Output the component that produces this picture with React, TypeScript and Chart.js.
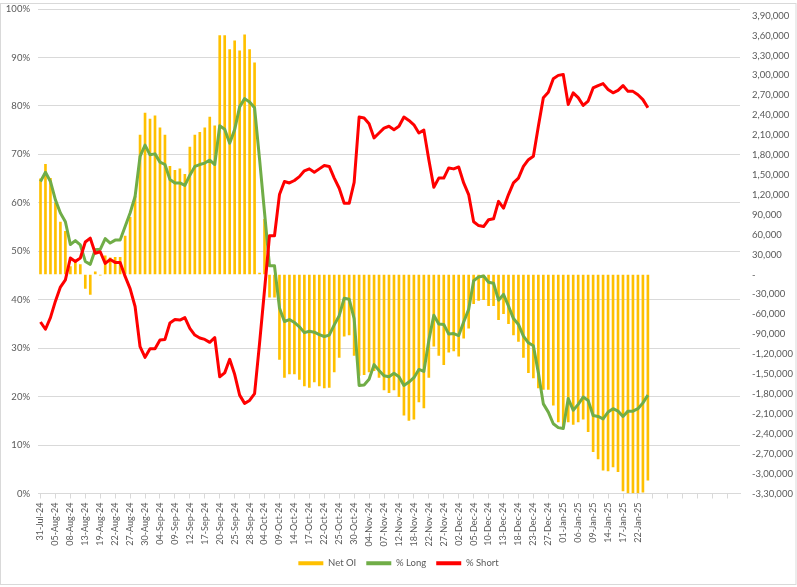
import React, { useEffect, useRef } from 'react';
import { Chart, registerables } from 'chart.js';

Chart.register(...registerables);

const dates: string[] = [
  '31-Jul-24', '01-Aug-24', '02-Aug-24', '05-Aug-24', '06-Aug-24', '07-Aug-24', '08-Aug-24', '09-Aug-24', '12-Aug-24', '13-Aug-24',
  '14-Aug-24', '16-Aug-24', '19-Aug-24', '20-Aug-24', '21-Aug-24', '22-Aug-24', '23-Aug-24', '26-Aug-24', '27-Aug-24', '28-Aug-24',
  '29-Aug-24', '30-Aug-24', '02-Sep-24', '03-Sep-24', '04-Sep-24', '05-Sep-24', '06-Sep-24', '09-Sep-24', '10-Sep-24', '11-Sep-24',
  '12-Sep-24', '13-Sep-24', '16-Sep-24', '17-Sep-24', '18-Sep-24', '19-Sep-24', '20-Sep-24', '23-Sep-24', '24-Sep-24', '25-Sep-24',
  '26-Sep-24', '27-Sep-24', '28-Sep-24', '01-Oct-24', '03-Oct-24', '04-Oct-24', '07-Oct-24', '08-Oct-24', '09-Oct-24', '10-Oct-24',
  '11-Oct-24', '14-Oct-24', '15-Oct-24', '16-Oct-24', '17-Oct-24', '18-Oct-24', '21-Oct-24', '22-Oct-24', '23-Oct-24', '24-Oct-24',
  '25-Oct-24', '28-Oct-24', '29-Oct-24', '30-Oct-24', '31-Oct-24', '01-Nov-24', '04-Nov-24', '05-Nov-24', '06-Nov-24', '07-Nov-24',
  '08-Nov-24', '11-Nov-24', '12-Nov-24', '13-Nov-24', '14-Nov-24', '18-Nov-24', '19-Nov-24', '21-Nov-24', '22-Nov-24', '25-Nov-24',
  '26-Nov-24', '27-Nov-24', '28-Nov-24', '29-Nov-24', '02-Dec-24', '03-Dec-24', '04-Dec-24', '05-Dec-24', '06-Dec-24', '09-Dec-24',
  '10-Dec-24', '11-Dec-24', '12-Dec-24', '13-Dec-24', '16-Dec-24', '17-Dec-24', '18-Dec-24', '19-Dec-24', '20-Dec-24', '23-Dec-24',
  '24-Dec-24', '26-Dec-24', '27-Dec-24', '30-Dec-24', '31-Dec-24', '01-Jan-25', '02-Jan-25', '03-Jan-25', '06-Jan-25', '07-Jan-25',
  '08-Jan-25', '09-Jan-25', '10-Jan-25', '13-Jan-25', '14-Jan-25', '15-Jan-25', '16-Jan-25', '17-Jan-25', '20-Jan-25', '21-Jan-25',
  '22-Jan-25', '23-Jan-25', '24-Jan-25',
];

// empty category rows that follow the data in the source range
const EMPTY_CATEGORIES = 18;

const netOI: number[] = [
  144000, 166000, 145000, 108000, 79000, 65000, 12000, 20000, 15000, -21000,
  -30000, 4000, -1000, 28000, 25000, 26000, 26000, 58000, 86000, 118000,
  210000, 243000, 234000, 239000, 221000, 210000, 163000, 157000, 159000, 151000,
  192000, 210000, 214000, 221000, 237000, 224000, 360000, 360000, 339000, 352000,
  337000, 361000, 339000, 319000, 2000, 83000, -34000, -34000, -128000, -155000,
  -150000, -150000, -158000, -168000, -170000, -162000, -168000, -171000, -170000, -147000,
  -125000, -93000, -91000, -122000, -152000, -151000, -147000, -145000, -155000, -174000,
  -178000, -174000, -184000, -212000, -220000, -218000, -192000, -201000, -155000, -108000,
  -122000, -136000, -117000, -115000, -123000, -96000, -81000, -44000, -39000, -38000,
  -47000, -47000, -68000, -59000, -74000, -91000, -101000, -125000, -148000, -156000,
  -171000, -173000, -173000, -197000, -222000, -230000, -222000, -226000, -222000, -218000,
  -237000, -267000, -278000, -295000, -296000, -290000, -297000, -326000, -329000, -329000,
  -329000, -328000, -310000,
];

const pctLong: number[] = [
  64.4, 66.3, 64.4, 60.6, 57.9, 56.1, 51.4, 52.2, 51.3, 47.9,
  47.3, 50.3, 50.4, 52.6, 51.7, 52.3, 52.3, 55.1, 57.9, 61.3,
  69.6, 71.9, 69.9, 70.1, 68.4, 67.9, 64.8, 64.1, 64.1, 63.6,
  65.7, 67.5, 67.9, 68.2, 68.8, 67.9, 75.9, 75.2, 72.3, 75.1,
  79.8, 81.5, 80.8, 79.6, 69.0, 58.0, 47.0, 47.0, 38.3, 35.5,
  35.9, 35.3, 34.4, 33.2, 33.5, 33.3, 32.8, 32.4, 32.7, 34.8,
  36.7, 40.3, 40.1, 36.1, 22.3, 22.4, 23.6, 26.6, 25.4, 24.3,
  24.1, 24.8, 24.1, 22.3, 23.0, 23.9, 25.6, 25.2, 31.6, 36.8,
  35.0, 34.9, 32.9, 33.0, 32.6, 35.4, 38.0, 43.9, 44.7, 44.9,
  43.6, 43.4, 39.9, 41.1, 38.7, 36.1, 34.9, 32.5, 31.1, 30.5,
  24.9, 18.5, 16.8, 14.4, 13.6, 13.4, 19.6, 17.2, 18.4, 19.9,
  19.2, 16.1, 15.9, 15.4, 16.8, 17.5, 17.0, 15.9, 17.0, 17.0,
  17.5, 18.7, 20.3,
];

const pctShort: number[] = [
  35.4, 33.9, 36.3, 39.7, 42.6, 44.1, 48.6, 47.9, 48.6, 51.9,
  52.7, 49.6, 49.9, 47.5, 48.3, 47.7, 47.7, 44.8, 42.3, 38.6,
  30.3, 28.1, 29.9, 29.9, 31.7, 31.8, 35.2, 35.9, 35.8, 36.3,
  34.1, 32.7, 32.1, 31.8, 31.2, 32.2, 24.1, 24.9, 27.7, 24.6,
  20.3, 18.6, 19.2, 20.6, 31.0, 42.0, 53.2, 53.2, 61.7, 64.4,
  64.1, 64.6, 65.4, 66.6, 67.0, 66.3, 67.0, 67.7, 67.5, 65.1,
  63.0, 59.9, 59.9, 64.2, 77.7, 77.5, 76.3, 73.4, 74.4, 75.4,
  75.8, 75.1, 75.8, 77.7, 77.0, 76.1, 74.4, 75.0, 68.9, 63.2,
  65.1, 65.1, 67.2, 67.0, 67.4, 64.1, 61.7, 56.1, 55.3, 55.1,
  56.5, 56.7, 60.3, 58.9, 61.7, 64.1, 65.1, 67.5, 68.9, 69.6,
  75.8, 81.7, 82.8, 85.6, 86.3, 86.5, 80.3, 82.7, 81.7, 80.1,
  81.0, 83.7, 84.2, 84.6, 83.4, 82.7, 83.2, 84.2, 83.0, 83.0,
  82.3, 81.3, 79.6,
];

const LEFT_MIN = 0;
const LEFT_MAX = 100;
const LEFT_STEP = 10;
const RIGHT_MIN = -330000;
const RIGHT_MAX = 400000;
const RIGHT_STEP = 30000;
const RIGHT_LAST_TICK = 390000;
const LABEL_EVERY = 3;

const FONT = 'Lato, "Noto Sans", sans-serif';
const TEXT = '#595959';
const GRID = '#d9d9d9';
const CLEAR = 'rgba(0,0,0,0)';

function fmtIndian(v: number): string {
  if (Math.abs(v) < 0.5) return '-';
  const neg = v < 0;
  const s = Math.abs(Math.round(v)).toString();
  let last3 = s.slice(-3);
  let rest = s.slice(0, -3);
  if (rest) last3 = ',' + last3;
  rest = rest.replace(/\B(?=(\d{2})+(?!\d))/g, ',');
  return (neg ? '-' : '') + rest + last3;
}

export default function App() {
  const ref = useRef<HTMLCanvasElement | null>(null);

  useEffect(() => {
    document.body.style.margin = '0';
    const canvas = ref.current;
    if (!canvas) return;
    const labels = [...dates, ...Array(EMPTY_CATEGORIES).fill('')];

    const bgPlugin = {
      id: 'bg',
      beforeDraw(chart: any) {
        const { ctx, width, height } = chart;
        ctx.save();
        ctx.fillStyle = '#ffffff';
        ctx.fillRect(0, 0, width, height);
        ctx.strokeStyle = GRID;
        ctx.lineWidth = 1;
        ctx.strokeRect(0.5, 3.5, width - 1.5, height - 6);
        ctx.restore();
      },
    };

    const chart = new Chart(canvas, {
      type: 'bar',
      data: {
        labels,
        datasets: [
          {
            type: 'bar',
            label: 'Net OI',
            data: netOI,
            backgroundColor: '#FFC000',
            borderWidth: 0,
            barThickness: 2,
            yAxisID: 'y1',
            order: 3,
          } as any,
          {
            type: 'line',
            label: '% Long',
            data: pctLong,
            borderColor: '#70AD47',
            backgroundColor: '#70AD47',
            borderWidth: 3,
            pointRadius: 0,
            tension: 0,
            borderJoinStyle: 'round',
            yAxisID: 'y',
            order: 2,
          } as any,
          {
            type: 'line',
            label: '% Short',
            data: pctShort,
            borderColor: '#FF0000',
            backgroundColor: '#FF0000',
            borderWidth: 3,
            pointRadius: 0,
            tension: 0,
            borderJoinStyle: 'round',
            yAxisID: 'y',
            order: 1,
          } as any,
        ],
      },
      options: {
        animation: false,
        responsive: false,
        maintainAspectRatio: false,
        layout: { padding: { top: 9, bottom: 9, left: 0, right: 0 } },
        plugins: {
          tooltip: { enabled: false },
          legend: {
            position: 'bottom',
            labels: {
              boxWidth: 25,
              boxHeight: 4,
              padding: 10,
              color: TEXT,
              font: { family: FONT, size: 9.5 },
              sort: (a: any, b: any) => a.datasetIndex - b.datasetIndex,
              generateLabels: (c: any) =>
                (Chart.defaults.plugins.legend.labels.generateLabels as any)(c).map((l: any) => ({
                  ...l,
                  lineWidth: 0,
                })),
            },
          },
        },
        scales: {
          x: {
            type: 'category',
            offset: true,
            grid: {
              drawOnChartArea: false,
              offset: false,
              tickLength: 5,
              color: (ctx: any) => (ctx.index % LABEL_EVERY === 0 ? GRID : CLEAR),
            },
            border: { color: GRID },
            ticks: {
              autoSkip: false,
              maxRotation: 90,
              minRotation: 90,
              padding: 4,
              color: TEXT,
              font: { family: FONT, size: 9 },
              callback: (_v: any, i: number) => (i % LABEL_EVERY === 0 ? labels[i] : ''),
            },
            afterFit: (s: any) => {
              s.height = 55;
            },
          },
          y: {
            position: 'left',
            min: LEFT_MIN,
            max: LEFT_MAX,
            grid: { color: GRID, drawTicks: true, tickLength: 8, tickColor: CLEAR },
            border: { display: false },
            ticks: {
              stepSize: LEFT_STEP,
              padding: 0,
              color: TEXT,
              font: { family: FONT, size: 9.5 },
              callback: (v: any) => `${v}%`,
            },
            afterFit: (s: any) => {
              s.width = 38;
            },
          },
          y1: {
            type: 'linear',
            position: 'right',
            min: RIGHT_MIN,
            max: RIGHT_MAX,
            grid: { display: true, drawOnChartArea: false, drawTicks: true, tickLength: 12, tickColor: CLEAR, color: CLEAR },
            border: { display: false },
            ticks: {
              autoSkip: false,
              padding: 0,
              color: TEXT,
              font: { family: FONT, size: 9.5 },
              callback: (v: any) => fmtIndian(Number(v)),
            },
            afterBuildTicks: (s: any) => {
              const t: { value: number }[] = [];
              for (let v = RIGHT_MIN; v <= RIGHT_LAST_TICK; v += RIGHT_STEP) t.push({ value: v });
              s.ticks = t;
            },
            afterFit: (s: any) => {
              s.width = 57;
            },
          },
        },
      } as any,
      plugins: [bgPlugin],
    });

    return () => chart.destroy();
  }, []);

  return (
    <div style={{ width: 797, height: 587 }}>
      <canvas ref={ref} width={797} height={587} style={{ display: 'block', width: 797, height: 587 }} />
    </div>
  );
}
